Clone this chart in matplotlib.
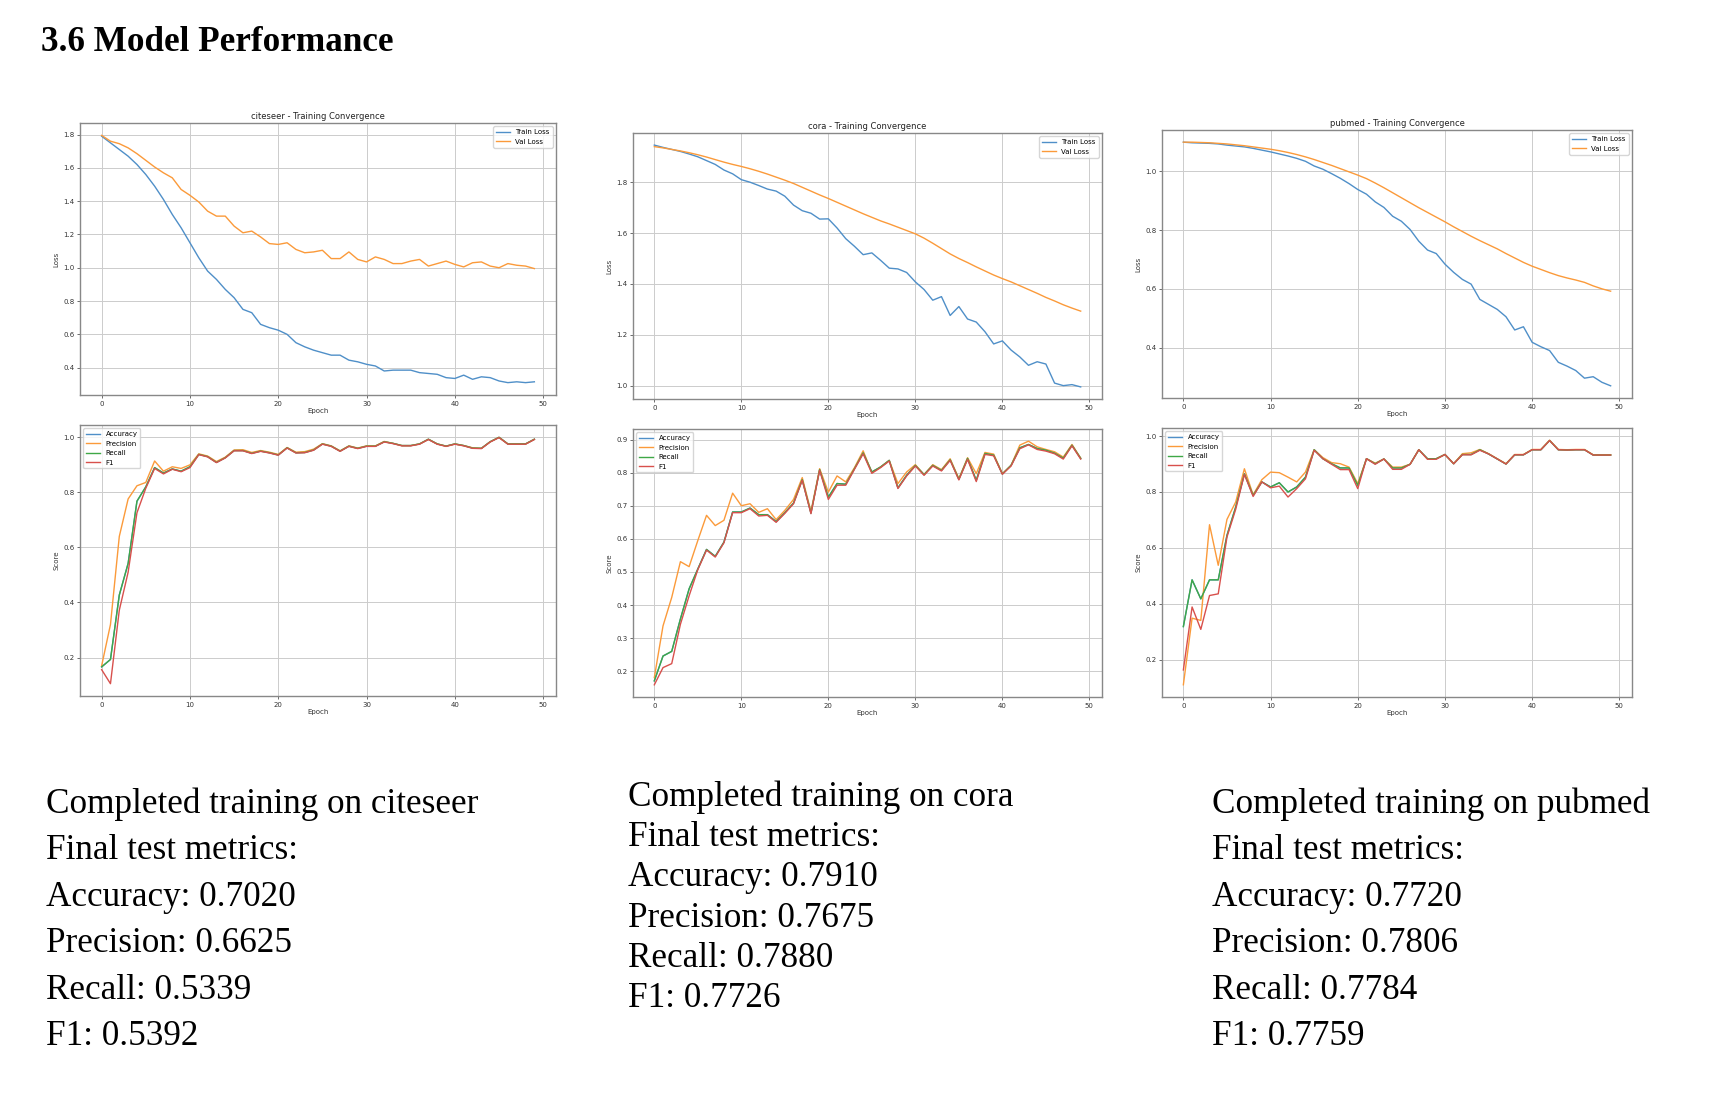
import matplotlib
matplotlib.use("Agg")
import matplotlib.pyplot as plt

# ---- data ----
epochs = list(range(50))

citeseer_train = [1.79, 1.75, 1.71, 1.67, 1.62, 1.56, 1.49, 1.41, 1.32, 1.24,
                  1.15, 1.06, 0.98, 0.93, 0.87, 0.82, 0.75, 0.73, 0.66, 0.64,
                  0.625, 0.60, 0.55, 0.525, 0.505, 0.49, 0.475, 0.475, 0.445, 0.435,
                  0.42, 0.41, 0.38, 0.385, 0.385, 0.385, 0.37, 0.365, 0.36, 0.34,
                  0.335, 0.355, 0.33, 0.345, 0.34, 0.32, 0.31, 0.315, 0.31, 0.315]
citeseer_val = [1.795, 1.76, 1.745, 1.72, 1.685, 1.645, 1.605, 1.57, 1.54, 1.47,
                1.435, 1.395, 1.34, 1.31, 1.31, 1.25, 1.21, 1.22, 1.185, 1.145,
                1.14, 1.15, 1.11, 1.09, 1.095, 1.105, 1.055, 1.055, 1.095, 1.05,
                1.035, 1.065, 1.05, 1.025, 1.025, 1.04, 1.05, 1.01, 1.025, 1.04,
                1.02, 1.005, 1.03, 1.035, 1.01, 1.0, 1.025, 1.015, 1.01, 0.995]
citeseer_prec = [0.17, 0.32, 0.64, 0.776, 0.824, 0.836, 0.914, 0.877, 0.893, 0.887,
                 0.90, 0.94, 0.932, 0.912, 0.928, 0.954, 0.955, 0.945, 0.952, 0.946,
                 0.938, 0.963, 0.946, 0.948, 0.957, 0.977, 0.969, 0.951, 0.969, 0.961,
                 0.969, 0.969, 0.985, 0.978, 0.97, 0.97, 0.976, 0.993, 0.976, 0.968,
                 0.976, 0.97, 0.962, 0.96, 0.984, 1.0, 0.976, 0.976, 0.976, 0.993]
citeseer_rec = [0.166, 0.193, 0.427, 0.542, 0.768, 0.82, 0.89, 0.87, 0.885, 0.877,
                0.893, 0.938, 0.93, 0.909, 0.926, 0.952, 0.952, 0.942, 0.95, 0.944,
                0.936, 0.962, 0.944, 0.945, 0.954, 0.976, 0.968, 0.95, 0.968, 0.96,
                0.968, 0.968, 0.984, 0.978, 0.97, 0.97, 0.976, 0.993, 0.976, 0.968,
                0.976, 0.97, 0.961, 0.96, 0.984, 1.0, 0.976, 0.976, 0.976, 0.993]
citeseer_acc = citeseer_rec
citeseer_f1 = [0.156, 0.105, 0.372, 0.51, 0.726, 0.815, 0.887, 0.867, 0.884, 0.875,
               0.89, 0.937, 0.929, 0.908, 0.925, 0.951, 0.951, 0.941, 0.949, 0.943,
               0.935, 0.961, 0.943, 0.944, 0.953, 0.975, 0.967, 0.949, 0.967, 0.959,
               0.967, 0.967, 0.983, 0.977, 0.969, 0.969, 0.975, 0.992, 0.975, 0.967,
               0.975, 0.969, 0.96, 0.959, 0.983, 0.999, 0.975, 0.975, 0.975, 0.992]

cora_train = [1.946, 1.937, 1.929, 1.921, 1.911, 1.90, 1.885, 1.87, 1.848, 1.833,
              1.81, 1.80, 1.787, 1.773, 1.765, 1.745, 1.71, 1.688, 1.678, 1.655,
              1.656, 1.62, 1.578, 1.548, 1.515, 1.522, 1.493, 1.462, 1.459, 1.445,
              1.408, 1.378, 1.336, 1.35, 1.276, 1.311, 1.262, 1.25, 1.212, 1.164,
              1.176, 1.14, 1.113, 1.08, 1.094, 1.085, 1.01, 1.0, 1.004, 0.995]
cora_val = [1.94, 1.935, 1.929, 1.923, 1.916, 1.908, 1.899, 1.889, 1.879, 1.87,
            1.862, 1.853, 1.843, 1.832, 1.82, 1.808, 1.795, 1.78, 1.765, 1.75,
            1.736, 1.721, 1.706, 1.691, 1.676, 1.662, 1.648, 1.636, 1.623, 1.61,
            1.597, 1.58, 1.56, 1.539, 1.518, 1.5, 1.484, 1.467, 1.451, 1.435,
            1.421, 1.408, 1.393, 1.378, 1.363, 1.347, 1.333, 1.318, 1.305, 1.293]
cora_prec = [0.181, 0.337, 0.423, 0.531, 0.516, 0.595, 0.671, 0.64, 0.656, 0.738,
             0.70, 0.706, 0.68, 0.691, 0.658, 0.686, 0.719, 0.785, 0.683, 0.812,
             0.741, 0.79, 0.772, 0.815, 0.866, 0.80, 0.817, 0.837, 0.767, 0.802,
             0.824, 0.794, 0.824, 0.809, 0.842, 0.782, 0.845, 0.797, 0.861, 0.856,
             0.797, 0.822, 0.883, 0.895, 0.878, 0.87, 0.863, 0.847, 0.885, 0.844]
cora_rec = [0.171, 0.246, 0.26, 0.358, 0.449, 0.509, 0.568, 0.547, 0.59, 0.681,
            0.681, 0.693, 0.673, 0.673, 0.652, 0.679, 0.708, 0.779, 0.678, 0.809,
            0.726, 0.767, 0.765, 0.812, 0.86, 0.802, 0.817, 0.837, 0.754, 0.792,
            0.822, 0.794, 0.822, 0.807, 0.839, 0.78, 0.843, 0.777, 0.858, 0.853,
            0.796, 0.822, 0.875, 0.885, 0.873, 0.868, 0.859, 0.844, 0.883, 0.843]
cora_acc = cora_rec
cora_f1 = [0.159, 0.211, 0.223, 0.342, 0.428, 0.507, 0.566, 0.545, 0.588, 0.679,
           0.679, 0.691, 0.669, 0.671, 0.65, 0.677, 0.706, 0.777, 0.676, 0.807,
           0.719, 0.762, 0.762, 0.81, 0.857, 0.798, 0.815, 0.835, 0.752, 0.79,
           0.82, 0.792, 0.82, 0.805, 0.837, 0.778, 0.84, 0.773, 0.855, 0.851,
           0.795, 0.82, 0.872, 0.884, 0.87, 0.865, 0.857, 0.841, 0.881, 0.841]

pubmed_train = [1.099, 1.097, 1.096, 1.095, 1.093, 1.089, 1.086, 1.083, 1.078, 1.072,
                1.066, 1.059, 1.052, 1.044, 1.034, 1.018, 1.007, 0.992, 0.976, 0.958,
                0.938, 0.922, 0.896, 0.877, 0.847, 0.83, 0.802, 0.762, 0.732, 0.72,
                0.684, 0.656, 0.632, 0.616, 0.564, 0.547, 0.53, 0.505, 0.46, 0.471,
                0.418, 0.403, 0.39, 0.35, 0.337, 0.322, 0.296, 0.301, 0.282, 0.27]
pubmed_val = [1.099, 1.099, 1.098, 1.097, 1.095, 1.093, 1.09, 1.087, 1.083, 1.079,
              1.075, 1.07, 1.064, 1.057, 1.049, 1.04, 1.03, 1.02, 1.009, 0.998,
              0.987, 0.975, 0.96, 0.944, 0.927, 0.91, 0.893, 0.876, 0.86, 0.844,
              0.828, 0.811, 0.795, 0.779, 0.764, 0.75, 0.736, 0.72, 0.705, 0.69,
              0.677, 0.666, 0.655, 0.645, 0.637, 0.63, 0.622, 0.61, 0.6, 0.592]
pubmed_prec = [0.111, 0.349, 0.341, 0.683, 0.538, 0.702, 0.764, 0.883, 0.79, 0.844,
               0.871, 0.869, 0.853, 0.836, 0.871, 0.951, 0.923, 0.905, 0.901, 0.889,
               0.83, 0.919, 0.903, 0.918, 0.889, 0.889, 0.899, 0.951, 0.918, 0.919,
               0.934, 0.901, 0.937, 0.94, 0.952, 0.937, 0.919, 0.901, 0.934, 0.934,
               0.952, 0.952, 0.985, 0.952, 0.951, 0.952, 0.952, 0.933, 0.933, 0.933]
pubmed_rec = [0.319, 0.486, 0.418, 0.486, 0.486, 0.645, 0.746, 0.865, 0.788, 0.836,
              0.818, 0.833, 0.80, 0.818, 0.853, 0.951, 0.919, 0.901, 0.886, 0.886,
              0.824, 0.919, 0.901, 0.918, 0.886, 0.886, 0.899, 0.951, 0.919, 0.919,
              0.934, 0.901, 0.934, 0.934, 0.951, 0.936, 0.918, 0.90, 0.933, 0.933,
              0.951, 0.951, 0.984, 0.951, 0.95, 0.951, 0.951, 0.932, 0.932, 0.932]
pubmed_acc = pubmed_rec
pubmed_f1 = [0.164, 0.389, 0.309, 0.43, 0.436, 0.639, 0.738, 0.863, 0.784, 0.836,
             0.815, 0.821, 0.782, 0.812, 0.847, 0.949, 0.919, 0.899, 0.88, 0.88,
             0.812, 0.919, 0.899, 0.918, 0.881, 0.881, 0.899, 0.951, 0.917, 0.917,
             0.934, 0.901, 0.933, 0.933, 0.949, 0.936, 0.918, 0.90, 0.933, 0.933,
             0.951, 0.951, 0.984, 0.951, 0.95, 0.951, 0.951, 0.932, 0.932, 0.932]

datasets = ['citeseer', 'cora', 'pubmed']
final_metrics = {
    'citeseer': ['0.7020', '0.6625', '0.5339', '0.5392'],
    'cora': ['0.7910', '0.7675', '0.7880', '0.7726'],
    'pubmed': ['0.7720', '0.7806', '0.7784', '0.7759'],
}
metric_names = ['Accuracy', 'Precision', 'Recall', 'F1']

losses = {
    'citeseer': (citeseer_train, citeseer_val),
    'cora': (cora_train, cora_val),
    'pubmed': (pubmed_train, pubmed_val),
}
scores = {
    'citeseer': (citeseer_acc, citeseer_prec, citeseer_rec, citeseer_f1),
    'cora': (cora_acc, cora_prec, cora_rec, cora_f1),
    'pubmed': (pubmed_acc, pubmed_prec, pubmed_rec, pubmed_f1),
}

# ---- layout (pixel boxes: left, top, right, bottom) ----
W, H = 1712, 1098
loss_boxes = {'citeseer': (80, 123, 556, 395),
              'cora': (633, 133, 1102, 399),
              'pubmed': (1162, 130, 1632, 398)}
score_boxes = {'citeseer': (80, 425, 556, 696),
               'cora': (633, 429, 1102, 697),
               'pubmed': (1162, 428, 1632, 697)}
text_pos = {'citeseer': (46, 813, 46.4),
            'cora': (628, 806, 40.2),
            'pubmed': (1212, 813, 46.4)}

small = 5
line_colors = ['#4f8fc8', '#fb9a3a', '#3fa846', '#d8504c']
fig = plt.figure(figsize=(W / 100, H / 100), dpi=100)


def make_ax(box):
    l, t, r, b = box
    ax = fig.add_axes([l / W, 1 - b / H, (r - l) / W, (b - t) / H])
    ax.grid(True, color='#cccccc', linewidth=0.7)
    ax.tick_params(labelsize=small, length=2, width=0.5, colors='#333333', pad=2)
    for s in ax.spines.values():
        s.set_color('#888888')
        s.set_linewidth(1.0)
    return ax


for name in datasets:
    ax = make_ax(loss_boxes[name])
    tr, va = losses[name]
    ax.plot(epochs, tr, label='Train Loss', color=line_colors[0], lw=1.0)
    ax.plot(epochs, va, label='Val Loss', color=line_colors[1], lw=1.0)
    ax.set_title(name + ' - Training Convergence', fontsize=6, pad=3, color='#222222')
    ax.set_xlabel('Epoch', fontsize=small, labelpad=1, color='#333333')
    ax.set_ylabel('Loss', fontsize=small, labelpad=3, color='#333333')
    ax.legend(loc='upper right', fontsize=small)

    ax = make_ax(score_boxes[name])
    for vals, lab, c in zip(scores[name], metric_names, line_colors):
        ax.plot(epochs, vals, label=lab, color=c, lw=1.0)
    ax.set_xlabel('Epoch', fontsize=small, labelpad=1, color='#333333')
    ax.set_ylabel('Score', fontsize=small, labelpad=3, color='#333333')
    ax.legend(loc='upper left', fontsize=small)

    # text block underneath
    x, y0, step = text_pos[name]
    lines = ['Completed training on ' + name, 'Final test metrics:']
    lines += [m + ': ' + v for m, v in zip(metric_names, final_metrics[name])]
    for i, line in enumerate(lines):
        fig.text(x / W, 1 - (y0 + i * step) / H, line, fontsize=25.3,
                 family='Liberation Serif', va='baseline', ha='left')

fig.text(41 / W, 1 - 51 / H, '3.6 Model Performance', fontsize=25.3,
         family='Liberation Serif', fontweight='bold', va='baseline', ha='left')

plt.savefig('out.png', dpi=100)
